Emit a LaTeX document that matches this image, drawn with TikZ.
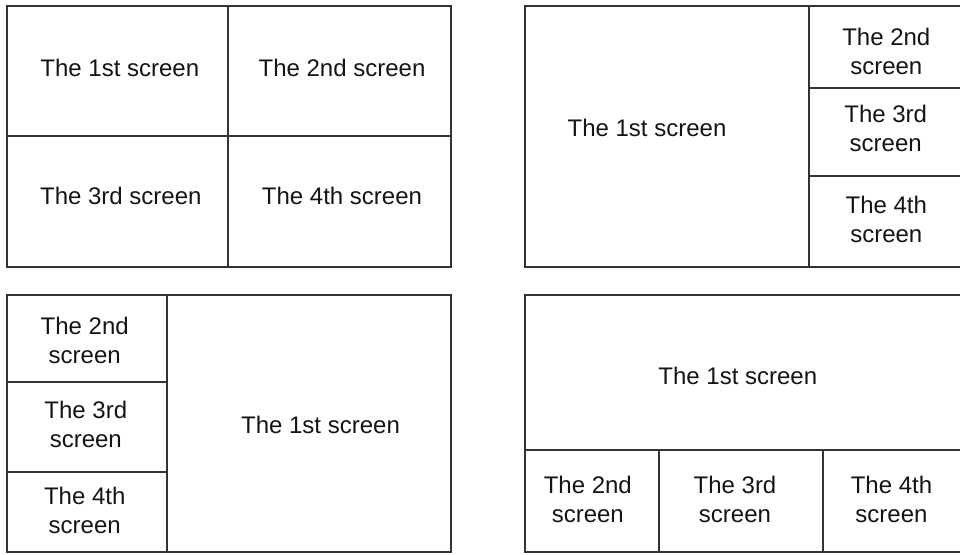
\documentclass[tikz,border=0pt]{standalone}
\usepackage{fontspec}
\setmainfont{Liberation Sans}
\begin{document}
\begin{tikzpicture}[x=1pt,y=-1pt,
  cell/.style={draw=black!80,line width=1.9pt,inner sep=0pt,outer sep=0pt,rectangle},
  lbl/.style={inner sep=0pt,align=center,text=black!92,font=\fontsize{24}{29}\selectfont}]
\useasboundingbox (0,0) rectangle (960,554);
\clip (0,0) rectangle (960,554);
% panel 1
\node[cell,minimum width=221pt,minimum height=130pt] (a1) at (117.5,70.8) {};
\node[cell,minimum width=222.5pt,minimum height=130pt] (a2) at (339.5,70.8) {};
\node[cell,minimum width=221pt,minimum height=131.5pt] (a3) at (117.5,201.5) {};
\node[cell,minimum width=222.5pt,minimum height=131.5pt] (a4) at (339.5,201.5) {};
\node[lbl] (ta1) at (119.8,67.8) {The 1st screen};
\node[lbl] (ta2) at (342,67.8) {The 2nd screen};
\node[lbl] (ta3) at (120.8,196) {The 3rd screen};
\node[lbl] (ta4) at (342,196) {The 4th screen};
% panel 2
\node[cell,minimum width=284.3pt,minimum height=261.6pt] (b1) at (667.2,136.5) {};
\node[cell,minimum width=160pt,minimum height=82pt] (b2) at (889.3,46.7) {};
\node[cell,minimum width=160pt,minimum height=88pt] (b3) at (889.3,131.7) {};
\node[cell,minimum width=160pt,minimum height=91.6pt] (b4) at (889.3,221.5) {};
\node[lbl] (tb1) at (647,127.8) {The 1st screen};
\node[lbl] (tb2) at (886.3,51.2) {The 2nd\\ screen};
\node[lbl] (tb3) at (885.7,128.5) {The 3rd\\ screen};
\node[lbl] (tb4) at (886.3,219.7) {The 4th\\ screen};
% panel 3
\node[cell,minimum width=160pt,minimum height=87.6pt] (c2) at (87,338.5) {};
\node[cell,minimum width=160pt,minimum height=89.4pt] (c3) at (87,427) {};
\node[cell,minimum width=160pt,minimum height=80.3pt] (c4) at (87,511.8) {};
\node[cell,minimum width=284pt,minimum height=257.3pt] (c1) at (309,423.3) {};
\node[lbl] (tc2) at (84.7,340) {The 2nd\\ screen};
\node[lbl] (tc3) at (85.8,424.8) {The 3rd\\ screen};
\node[lbl] (tc4) at (84.7,510.7) {The 4th\\ screen};
\node[lbl] (tc1) at (320.5,424.5) {The 1st screen};
% panel 4
\node[cell,minimum width=444pt,minimum height=155pt] (d1) at (747,372.2) {};
\node[cell,minimum width=134.3pt,minimum height=102.3pt] (d2) at (592.2,500.8) {};
\node[cell,minimum width=164pt,minimum height=102.3pt] (d3) at (741.3,500.8) {};
\node[cell,minimum width=146pt,minimum height=102.3pt] (d4) at (896.3,500.8) {};
\node[lbl] (td1) at (737.8,376.2) {The 1st screen};
\node[lbl] (td2) at (587.8,499) {The 2nd\\ screen};
\node[lbl] (td3) at (735,499) {The 3rd\\ screen};
\node[lbl] (td4) at (891.5,499) {The 4th\\ screen};
\end{tikzpicture}
\end{document}
